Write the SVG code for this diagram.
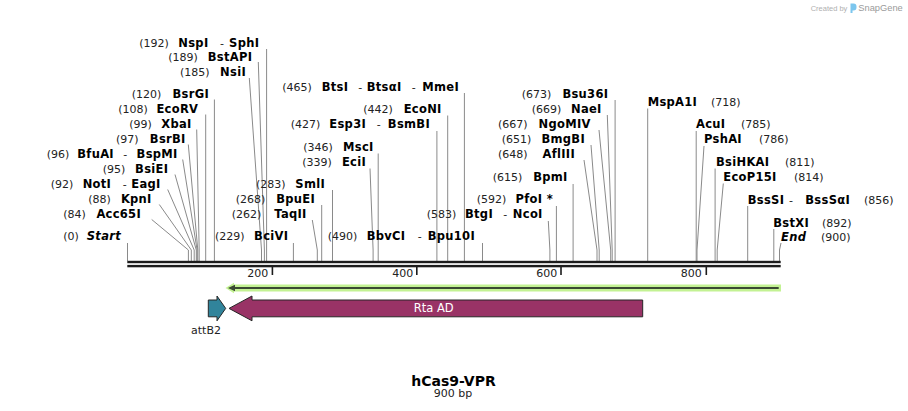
<svg xmlns="http://www.w3.org/2000/svg" width="908" height="411" viewBox="0 0 908 411">
<style>
text{font-family:"DejaVu Sans","Verdana",sans-serif}
.n{font-size:11px;fill:#222}
.b{font-size:11.5px;font-weight:bold;letter-spacing:0.3px;fill:#000}
.i{font-size:11.5px;font-weight:bold;font-style:italic;letter-spacing:0.3px;fill:#000}
.e{text-anchor:end}
.c{text-anchor:middle}
.ln{fill:none;stroke:#8a8a8a;stroke-width:1}
.bb{fill:#1c1c1c}
.tk{fill:#1c1c1c}
.feat{stroke:#262626;stroke-width:1}
</style>
<rect width="908" height="411" fill="#fff"/>
<g id="credit">
<text x="810.7" y="10.5" style="font-family:'Liberation Sans',Arial,sans-serif;font-size:7.5px;fill:#b0b0b0">Created by</text>
<path d="M850.5 3.5 h3 a3 3 0 0 1 3 3 v1 a3 3 0 0 1 -3 3 h-1 v2.5 h-2 z" fill="#7cc6ee"/>
<text x="858.3" y="11" style="font-family:'Liberation Sans',Arial,sans-serif;font-size:9.3px;fill:#9a9a9a">SnapGene</text>
</g>
<g id="connectors">
<path class="ln" d="M266.6 49 V261"/>
<path class="ln" d="M258.3 62 L264.4 250 V261"/>
<path class="ln" d="M249.3 78 L261.5 250 V261"/>
<path class="ln" d="M214.4 99.5 V261"/>
<path class="ln" d="M205.7 114.5 V261"/>
<path class="ln" d="M196.7 129.5 L199.2 250 V261"/>
<path class="ln" d="M188.3 144.5 L197.8 250 V261"/>
<path class="ln" d="M182.7 159.5 L197.1 250 V261"/>
<path class="ln" d="M175 174.5 L196.3 250 V261"/>
<path class="ln" d="M167.7 189.5 L194.2 250 V261"/>
<path class="ln" d="M159.3 204.5 L191.3 250 V261"/>
<path class="ln" d="M151.7 219.5 L188.4 250 V261"/>
<path class="ln" d="M127.5 243 V261"/>
<path class="ln" d="M293.4 243 V261"/>
<path class="ln" d="M312.3 220 L317.3 250 V261"/>
<path class="ln" d="M321.7 205 V261"/>
<path class="ln" d="M332.5 190 V261"/>
<path class="ln" d="M370 168.5 L373.1 250 V261"/>
<path class="ln" d="M378.2 153.5 V261"/>
<path class="ln" d="M436.9 131 V261"/>
<path class="ln" d="M447.7 115.5 V261"/>
<path class="ln" d="M464.4 93 V261"/>
<path class="ln" d="M482.5 243 V261"/>
<path class="ln" d="M548.3 221 L549.9 250 V261"/>
<path class="ln" d="M556.4 206 V261"/>
<path class="ln" d="M573.1 184 V261"/>
<path class="ln" d="M584 160 L597 250 V261"/>
<path class="ln" d="M591 145 L599.2 250 V261"/>
<path class="ln" d="M599 130 L610.7 250 V261"/>
<path class="ln" d="M607.3 115 L612.2 250 V261"/>
<path class="ln" d="M615.1 100 V261"/>
<path class="ln" d="M647.7 108.5 V261"/>
<path class="ln" d="M696.2 131 V261"/>
<path class="ln" d="M704 146 L697 250 V261"/>
<path class="ln" d="M715.1 168.5 V261"/>
<path class="ln" d="M723.3 183.5 L717.2 250 V261"/>
<path class="ln" d="M747.7 206 V261"/>
<path class="ln" d="M773.8 229 V261"/>
<path class="ln" d="M781 243 L779.5 250 V261"/>
</g>
<g id="backbone">
<rect class="bb" x="127.3" y="260.8" width="653.4" height="2.4"/>
<rect class="bb" x="127.3" y="264.9" width="653.4" height="2.4"/>
<rect class="tk" x="271.6" y="267" width="1.6" height="8"/>
<rect class="tk" x="416" y="267" width="1.6" height="8"/>
<rect class="tk" x="560.2" y="267" width="1.6" height="8"/>
<rect class="tk" x="705.5" y="267" width="1.6" height="8"/>
<text class="n e" x="268.3" y="277">200</text>
<text class="n e" x="413.3" y="277">400</text>
<text class="n e" x="557.3" y="277">600</text>
<text class="n e" x="701.7" y="277">800</text>
</g>
<g id="site-192"><text class="n" x="139.3" y="46.5">(192)</text><text class="b" x="178.3" y="46.5">NspI</text><text class="n" x="220" y="46.5">-</text><text class="b e" x="259.3" y="46.5">SphI</text></g>
<g id="site-189"><text class="n" x="168.3" y="61">(189)</text><text class="b e" x="252.3" y="61">BstAPI</text></g>
<g id="site-185"><text class="n" x="180" y="76">(185)</text><text class="b e" x="246" y="76">NsiI</text></g>
<g id="site-120"><text class="n" x="131.7" y="98">(120)</text><text class="b e" x="209" y="98">BsrGI</text></g>
<g id="site-108"><text class="n" x="118.3" y="113">(108)</text><text class="b e" x="198.3" y="113">EcoRV</text></g>
<g id="site-99"><text class="n" x="129.3" y="128">(99)</text><text class="b e" x="191.7" y="128">XbaI</text></g>
<g id="site-97"><text class="n" x="116" y="143">(97)</text><text class="b e" x="185.7" y="143">BsrBI</text></g>
<g id="site-96"><text class="n" x="46.7" y="158">(96)</text><text class="b" x="77.3" y="158">BfuAI</text><text class="n" x="123.3" y="158">-</text><text class="b e" x="177.7" y="158">BspMI</text></g>
<g id="site-95"><text class="n" x="102.7" y="173">(95)</text><text class="b e" x="168.3" y="173">BsiEI</text></g>
<g id="site-92"><text class="n" x="50.7" y="188">(92)</text><text class="b" x="82.7" y="188">NotI</text><text class="n" x="122.7" y="188">-</text><text class="b e" x="160.7" y="188">EagI</text></g>
<g id="site-88"><text class="n" x="88.3" y="203">(88)</text><text class="b e" x="151.7" y="203">KpnI</text></g>
<g id="site-84"><text class="n" x="63.3" y="218">(84)</text><text class="b e" x="141" y="218">Acc65I</text></g>
<g id="site-0"><text class="n" x="63.3" y="240">(0)</text><text class="i e" x="121" y="240">Start</text></g>
<g id="site-229"><text class="n" x="215" y="240">(229)</text><text class="b e" x="288.3" y="240">BciVI</text></g>
<g id="site-283"><text class="n" x="256" y="188">(283)</text><text class="b e" x="325" y="188">SmlI</text></g>
<g id="site-268"><text class="n" x="235.7" y="203">(268)</text><text class="b e" x="315" y="203">BpuEI</text></g>
<g id="site-262"><text class="n" x="231.7" y="218">(262)</text><text class="b e" x="306.7" y="218">TaqII</text></g>
<g id="site-465"><text class="n" x="282.3" y="90.5">(465)</text><text class="b" x="321.7" y="90.5">BtsI</text><text class="n" x="358.3" y="90.5">-</text><text class="b" x="366.7" y="90.5">BtsαI</text><text class="n" x="411.7" y="90.5">-</text><text class="b e" x="459" y="90.5">MmeI</text></g>
<g id="site-442"><text class="n" x="363.3" y="113">(442)</text><text class="b e" x="441.7" y="113">EcoNI</text></g>
<g id="site-427"><text class="n" x="290.7" y="128">(427)</text><text class="b" x="329.3" y="128">Esp3I</text><text class="n" x="376.7" y="128">-</text><text class="b e" x="430" y="128">BsmBI</text></g>
<g id="site-346"><text class="n" x="303.3" y="151">(346)</text><text class="b e" x="373.7" y="151">MscI</text></g>
<g id="site-339"><text class="n" x="302.3" y="166">(339)</text><text class="b e" x="366" y="166">EciI</text></g>
<g id="site-490"><text class="n" x="327.7" y="240">(490)</text><text class="b" x="366.7" y="240">BbvCI</text><text class="n" x="417.7" y="240">-</text><text class="b e" x="475" y="240">Bpu10I</text></g>
<g id="site-583"><text class="n" x="426.7" y="218">(583)</text><text class="b" x="465" y="218">BtgI</text><text class="n" x="503.3" y="218">-</text><text class="b e" x="542.7" y="218">NcoI</text></g>
<g id="site-592"><text class="n" x="476.7" y="203">(592)</text><text class="b e" x="553" y="203">PfoI *</text></g>
<g id="site-615"><text class="n" x="492.7" y="181">(615)</text><text class="b e" x="567.7" y="181">BpmI</text></g>
<g id="site-648"><text class="n" x="498" y="157.5">(648)</text><text class="b e" x="575" y="157.5">AflIII</text></g>
<g id="site-651"><text class="n" x="501.7" y="142.5">(651)</text><text class="b e" x="585" y="142.5">BmgBI</text></g>
<g id="site-667"><text class="n" x="498" y="127.7">(667)</text><text class="b e" x="590.7" y="127.7">NgoMIV</text></g>
<g id="site-669"><text class="n" x="531.7" y="112.7">(669)</text><text class="b e" x="601.7" y="112.7">NaeI</text></g>
<g id="site-673"><text class="n" x="521.7" y="97.5">(673)</text><text class="b e" x="608.3" y="97.5">Bsu36I</text></g>
<g id="site-718"><text class="b" x="647.7" y="105.7">MspA1I</text><text class="n" x="711" y="105.7">(718)</text></g>
<g id="site-785"><text class="b" x="696" y="128">AcuI</text><text class="n" x="741" y="128">(785)</text></g>
<g id="site-786"><text class="b" x="704" y="143">PshAI</text><text class="n" x="759" y="143">(786)</text></g>
<g id="site-811"><text class="b" x="716" y="166">BsiHKAI</text><text class="n" x="785" y="166">(811)</text></g>
<g id="site-814"><text class="b" x="723.3" y="181">EcoP15I</text><text class="n" x="794" y="181">(814)</text></g>
<g id="site-856"><text class="b" x="747.7" y="203.5">BssSI</text><text class="n" x="789" y="203.5">-</text><text class="b e" x="850" y="203.5">BssSαI</text><text class="n" x="864" y="203.5">(856)</text></g>
<g id="site-892"><text class="b" x="773.3" y="226.5">BstXI</text><text class="n" x="822" y="226.5">(892)</text></g>
<g id="site-900"><text class="i" x="781" y="240.5">End</text><text class="n" x="821" y="240.5">(900)</text></g>
<g id="primer">
<path d="M225.5 288 L234 282.8 V284.6 H781 V291.4 H234 V293.2 Z" fill="#c3f293"/>
<line x1="233" y1="288" x2="778.7" y2="288" stroke="#3b4a33" stroke-width="2.2"/>
<path d="M228 288 L235 284.8 V291.2 Z" fill="#3b4a33"/>
</g>
<g id="feature-attB2">
<path class="feat" d="M208.3 300 H217 V296 L225.7 308.4 L217 320.8 V316.8 H208.3 Z" fill="#31849b"/>
<text class="n c" x="206" y="334">attB2</text>
</g>
<g id="feature-RtaAD">
<path class="feat" d="M229 308.4 L252 296 V300 H642.7 V316.8 H252 V320.8 Z" fill="#993366"/>
<text class="c" x="433.7" y="311.5" style="font-size:11.5px;fill:#fff">Rta AD</text>
</g>
<g id="title">
<text class="c" x="453.5" y="385.5" style="font-size:14px;font-weight:bold;fill:#000">hCas9-VPR</text>
<text class="n c" x="453" y="397">900 bp</text>
</g>
</svg>
